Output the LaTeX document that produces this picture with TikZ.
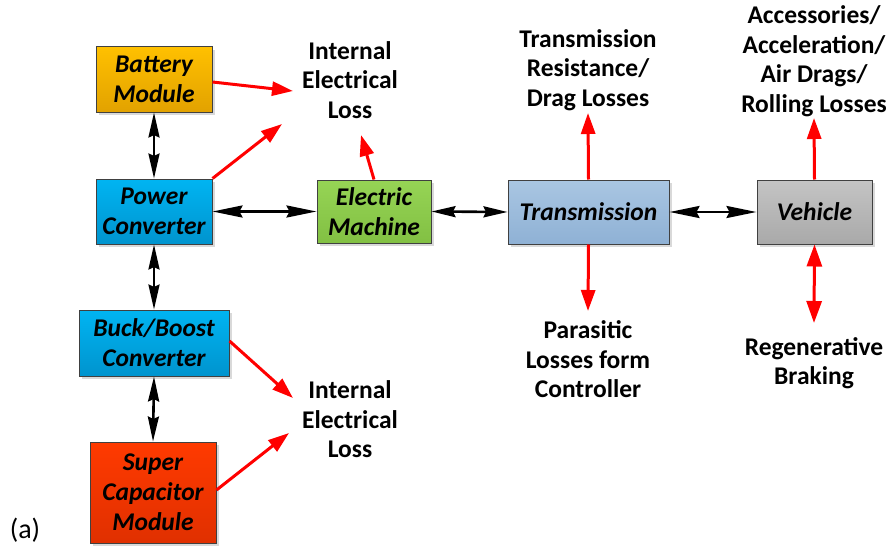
\documentclass[tikz,border=0pt]{standalone}
\usepackage{fontspec}
\setmainfont{Carlito}
\usetikzlibrary{arrows.meta,shadows}
\definecolor{batT}{HTML}{FFC000}\definecolor{batB}{HTML}{E2A200}
\definecolor{pcT}{HTML}{00B4F2}\definecolor{pcB}{HTML}{0094CE}
\definecolor{emT}{HTML}{96D455}\definecolor{emB}{HTML}{82C043}
\definecolor{trT}{HTML}{A9C6E2}\definecolor{trB}{HTML}{8FB1D5}
\definecolor{veT}{HTML}{C4C4C4}\definecolor{veB}{HTML}{A9A9A9}
\definecolor{scT}{HTML}{FF3A00}\definecolor{scB}{HTML}{E03000}
\definecolor{lossred}{HTML}{FF0000}
\tikzset{
  blk/.style={draw=black!75,line width=1pt,inner sep=0pt,align=center,
    font=\fontsize{25.5}{30}\selectfont\bfseries\itshape,
    drop shadow={shadow xshift=3pt,shadow yshift=-3pt,fill=black!15,opacity=1}},
  lbl/.style={align=center,inner sep=0pt,font=\fontsize{25.5}{29.5}\selectfont\bfseries},
  bi/.style={line width=2.6pt,draw=black,{Stealth[length=30pt,width=12pt,inset=3pt]}-{Stealth[length=30pt,width=12pt,inset=3pt]}},
  bis/.style={line width=2.6pt,draw=black,{Stealth[length=24pt,width=11pt,inset=2.5pt]}-{Stealth[length=24pt,width=11pt,inset=2.5pt]}},
  biv/.style={line width=2.6pt,draw=black,{Stealth[length=25pt,width=11pt,inset=2.5pt]}-{Stealth[length=25pt,width=11pt,inset=2.5pt]}},
  loss/.style={line width=3pt,draw=lossred,-{Triangle[length=21pt,width=14pt]}},
  bil/.style={line width=3pt,draw=lossred,{Triangle[length=22pt,width=15pt]}-{Triangle[length=22pt,width=15pt]}},
}
\begin{document}
\begin{tikzpicture}[x=1pt,y=-1pt]
\useasboundingbox (0,0) rectangle (891,551);
% boxes
\node[blk,minimum width=116pt,minimum height=65pt,top color=batT,bottom color=batB] (bat) at (154,79.5) {Battery\\Module};
\node[blk,minimum width=116pt,minimum height=65pt,top color=pcT,bottom color=pcB] (pc) at (154,211.5) {Power\\Converter};
\node[blk,minimum width=114pt,minimum height=63pt,top color=emT,bottom color=emB] (em) at (374,211.5) {Electric\\Machine};
\node[blk,minimum width=161pt,minimum height=64pt,top color=trT,bottom color=trB] (tr) at (588.5,212) {Transmission};
\node[blk,minimum width=115pt,minimum height=64pt,top color=veT,bottom color=veB] (ve) at (814.5,212) {Vehicle};
\node[blk,minimum width=150pt,minimum height=66pt,top color=pcT,bottom color=pcB] (bb) at (154,343) {Buck/Boost\\Converter};
\node[blk,minimum width=126pt,minimum height=101pt,top color=scT,bottom color=scB] (sc) at (153,492.5) {Super\\Capacitor\\Module};
% labels
\node[lbl] (ltop) at (350,80) {Internal\\Electrical\\Loss};
\node[lbl] (lbot) at (350,419.5) {Internal\\Electrical\\Loss};
\node[lbl] (ltr) at (588,70) {Transmission\\Resistance/\\Drag Losses};
\node[lbl] (lve) at (814,61) {Accessories/\\Acceleration/\\Air Drags/\\Rolling Losses};
\node[lbl] (lpar) at (588,359.5) {Parasitic\\Losses form\\Controller};
\node[lbl] (lreg) at (814,363) {Regenerative\\Braking};
\node[inner sep=0pt,font=\fontsize{28}{30}\selectfont] (lab) at (25,530) {(a)};
% coordinates for loss arrow tips
\coordinate (t1) at (293,91);
\coordinate (t2) at (282,124);
\coordinate (t3) at (361,135);
\coordinate (t4) at (588,113);
\coordinate (t5) at (588,311);
\coordinate (t6) at (814,118);
\coordinate (t7) at (814,323);
\coordinate (t8) at (293,398);
\coordinate (t9) at (289,433);
% black connectors
\draw[biv] (bat.south) -- (pc.north);
\draw[biv] (pc.south) -- (bb.north);
\draw[biv] (bb.south) -- (sc.north);
\draw[bi] (pc.east) -- (em.west);
\draw[bis] (em.east) -- (tr.west);
\draw[bi] (tr.east) -- (ve.west);
% red loss arrows
\draw[loss] ([yshift=-2.5pt]bat.east) -- (t1);
\draw[loss] (pc.north east) -- (t2);
\draw[loss] (em.north) -- (t3);
\draw[loss] (tr.north) -- (t4);
\draw[loss] (tr.south) -- (t5);
\draw[loss] (ve.north) -- (t6);
\draw[bil] (ve.south) -- (t7);
\draw[loss] ([yshift=2pt]bb.east) -- (t8);
\draw[loss] ([yshift=2.5pt]sc.east) -- (t9);
\end{tikzpicture}
\end{document}
